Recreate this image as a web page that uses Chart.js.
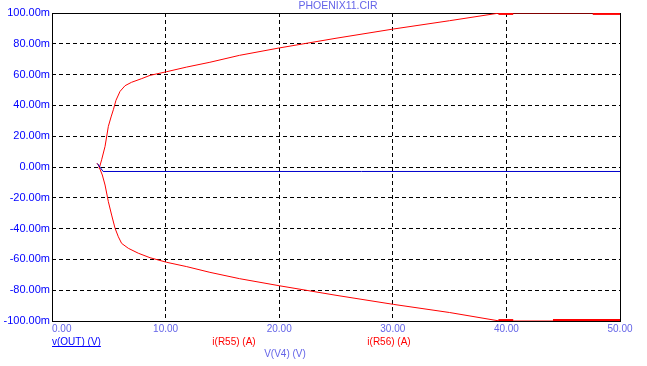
<!DOCTYPE html>
<html>
<head>
<meta charset="utf-8">
<script src="https://cdn.jsdelivr.net/npm/chart.js@4.4.1/dist/chart.umd.min.js"></script>
<style>
  html, body { margin: 0; padding: 0; background: #ffffff; }
  canvas { display: block; }
</style>
</head>
<body>
<canvas id="chart" width="647" height="366"></canvas>
<script>
// Sweep of V(V4) in volts, currents in mA (axis shows "m")
const xTicks = [0, 10, 20, 30, 40, 50];
const yTicks = [-100, -80, -60, -40, -20, 0, 20, 40, 60, 80, 100];

// i(R55) - upper branch
const r55X = [4.15, 4.37, 4.67, 4.96, 5.2, 5.4, 5.63, 5.99, 6.43, 7.0, 7.9, 8.63, 10.1, 11.86, 13.9, 16.5, 20.0, 25.0, 30.05, 35.0, 39.4, 50];
const r55Y = [-1, 4.7, 13.4, 26.4, 32.5, 37.2, 43.3, 49.1, 52.8, 55, 57.4, 59.5, 61.9, 64.9, 68, 72.5, 77.3, 83.6, 89.6, 95, 100, 100];

// i(R56) - lower branch
const r56X = [3.95, 4.08, 4.43, 4.67, 4.96, 5.25, 5.55, 5.84, 6.13, 6.72, 7.6, 8.63, 10.1, 11.86, 13.9, 16.5, 20.0, 25.0, 30.05, 35.0, 39.4, 49.6, 50];
const r56Y = [2.5, 1.3, -5.2, -11.7, -22.5, -31.2, -39.8, -45.3, -49.6, -52.8, -56, -58.9, -61.9, -64.7, -68.4, -72.5, -77.1, -83.3, -89.2, -94.5, -100, -100, -99];

// heavier stretches along the limits
const r55FlatX = [[39.3, 40.6], [47.6, 50]];
const r55FlatY = [99.4, 99.4];
const r56FlatX = [[39.3, 40.6], [44.1, 50]];
const r56FlatY = [-99.4, -99.4];

// v(OUT)
const outX = [4.0, 4.5, 50];
const outY = [2.2, -2.92, -2.92];

const toPts = (xs, ys) => xs.map((x, i) => ({ x: x, y: ys[i] }));

const RED = "#ff0000";
const BLUE = "#0000cc";
const LIGHT = "#6464e8";
const FONT = "'Liberation Sans', Arial, sans-serif";

const datasets = [
  { label: "v(OUT) (V)", data: toPts(outX, outY), borderColor: BLUE, borderWidth: 1 },
  { label: "i(R55) (A)", data: toPts(r55X, r55Y), borderColor: RED, borderWidth: 1 },
  { label: "i(R56) (A)", data: toPts(r56X, r56Y), borderColor: RED, borderWidth: 1 },
];
r55FlatX.forEach((seg, i) => {
  datasets.push({ data: toPts(seg, [r55FlatY[i], r55FlatY[i]]), borderColor: RED, borderWidth: 2 });
});
r56FlatX.forEach((seg, i) => {
  datasets.push({ data: toPts(seg, [r56FlatY[i], r56FlatY[i]]), borderColor: RED, borderWidth: 2 });
});

// frame, x tick labels, title and trace names
const textPlugin = {
  id: "texts",
  beforeDatasetsDraw(chart) {
    const ctx = chart.ctx, a = chart.chartArea;
    ctx.save();
    ctx.strokeStyle = "#000000";
    ctx.lineWidth = 1;
    ctx.strokeRect(a.left + 0.5, a.top + 0.5, a.right - a.left, a.bottom - a.top);
    ctx.restore();
  },
  afterDraw(chart) {
    const ctx = chart.ctx, xs = chart.scales.x;
    ctx.save();
    ctx.font = "10px " + FONT;
    ctx.textBaseline = "middle";
    ctx.fillStyle = LIGHT;
    xTicks.forEach((v) => {
      const px = xs.getPixelForValue(v);
      ctx.textAlign = v === xTicks[0] ? "left" : "center";
      ctx.fillText(v.toFixed(2), px, 329);
    });

    ctx.textAlign = "center";
    ctx.font = "10.5px " + FONT;
    ctx.fillText("PHOENIX11.CIR", 338, 6);

    ctx.font = "10px " + FONT;
    ctx.fillText("V(V4) (V)", 285, 354);

    ctx.fillStyle = RED;
    ctx.fillText("i(R55) (A)", 234, 342);
    ctx.fillText("i(R56) (A)", 389, 342);

    ctx.fillStyle = "#0000ff";
    ctx.textAlign = "left";
    ctx.fillText("v(OUT) (V)", 52, 342);
    const w = ctx.measureText("v(OUT) (V)").width;
    ctx.fillRect(52, 346, w, 1);
    ctx.restore();
  },
};

new Chart(document.getElementById("chart"), {
  type: "line",
  data: { datasets: datasets },
  plugins: [textPlugin],
  options: {
    responsive: false,
    animation: false,
    events: [],
    layout: { padding: { top: 13, right: 27, bottom: 0, left: 0 } },
    elements: {
      point: { radius: 0 },
      line: { tension: 0, fill: false },
    },
    plugins: {
      legend: { display: false },
      tooltip: { enabled: false },
      title: { display: false },
    },
    scales: {
      x: {
        type: "linear",
        min: 0,
        max: 50,
        afterBuildTicks: (s) => { s.ticks = xTicks.map((v) => ({ value: v })); },
        afterFit: (s) => { s.height = 45; },
        ticks: { display: false },
        grid: { color: "#000000", lineWidth: 1, drawTicks: false },
        border: { display: false, dash: [4, 3] },
      },
      y: {
        type: "linear",
        min: -100,
        max: 100,
        afterBuildTicks: (s) => { s.ticks = yTicks.map((v) => ({ value: v })); },
        afterFit: (s) => { s.width = 52; },
        ticks: {
          color: "#0000ff",
          padding: 2,
          font: { family: FONT, size: 11 },
          callback: (v) => v.toFixed(2) + "m",
        },
        grid: { color: "#000000", lineWidth: 1, drawTicks: false },
        border: { display: false, dash: [4, 3] },
      },
    },
  },
});
</script>
</body>
</html>
